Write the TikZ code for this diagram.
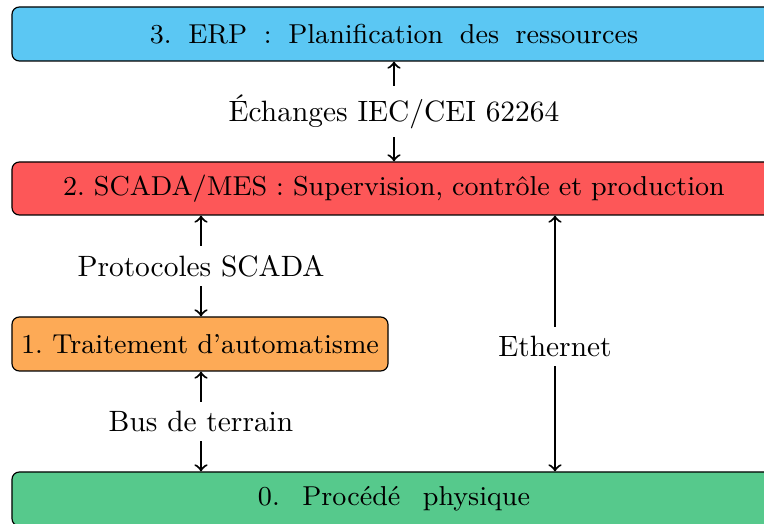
\documentclass[tikz,border=0pt]{standalone}
\usepackage{tikz}
\definecolor{erpblue}{RGB}{91,199,243}
\definecolor{scadared}{RGB}{253,87,88}
\definecolor{autoorange}{RGB}{253,170,86}
\definecolor{procgreen}{RGB}{86,201,140}
\tikzset{
  bar/.style={draw=black, line width=0.4pt, rounded corners=2.5pt, rectangle, inner sep=0pt,
    font=\fontsize{9.3pt}{11pt}\selectfont\frenchspacing},
  link/.style={<->, line width=0.7pt, >=to},
  linklabel/.style={fill=white, inner sep=3pt, font=\normalsize}
}
\begin{document}
\begin{tikzpicture}[x=0.34pt, y=-0.34pt]
\useasboundingbox (0,0) rectangle (764,524);
\begin{scope}
\clip (0,0) rectangle (764,524);
\node[bar, fill=erpblue, minimum width=764*0.34pt, minimum height=54*0.34pt] (erp) at (394,34)
  {\makebox[166pt][s]{3. ERP : Planification des ressources}};
\node[bar, fill=scadared, minimum width=764*0.34pt, minimum height=53*0.34pt] (scada) at (394,188.5)
  {\makebox[225pt][s]{2. SCADA/MES : Supervision, contrôle et production}};
\node[bar, fill=autoorange, minimum width=376*0.34pt, minimum height=54*0.34pt] (auto) at (200,344)
  {1. Traitement d'automatisme};
\node[bar, fill=procgreen, minimum width=764*0.34pt, minimum height=54*0.34pt] (proc) at (394,499)
  {\makebox[92.5pt][s]{0. Procédé physique}};
\end{scope}
\coordinate (ethx) at (555,0);
\coordinate (busx) at (201,0);
\draw[link] (erp.south) -- node[linklabel] (l3) {Échanges IEC/CEI 62264} (scada.north);
\draw[link] (busx |- scada.south) -- node[linklabel] (l2) {Protocoles SCADA} (busx |- auto.north);
\draw[link] (busx |- auto.south) -- node[linklabel] (l1) {Bus de terrain} (busx |- proc.north);
\draw[link] (ethx |- scada.south) -- node[linklabel, yshift=-1pt] (l0) {Ethernet} (ethx |- proc.north);
\end{tikzpicture}
\end{document}
